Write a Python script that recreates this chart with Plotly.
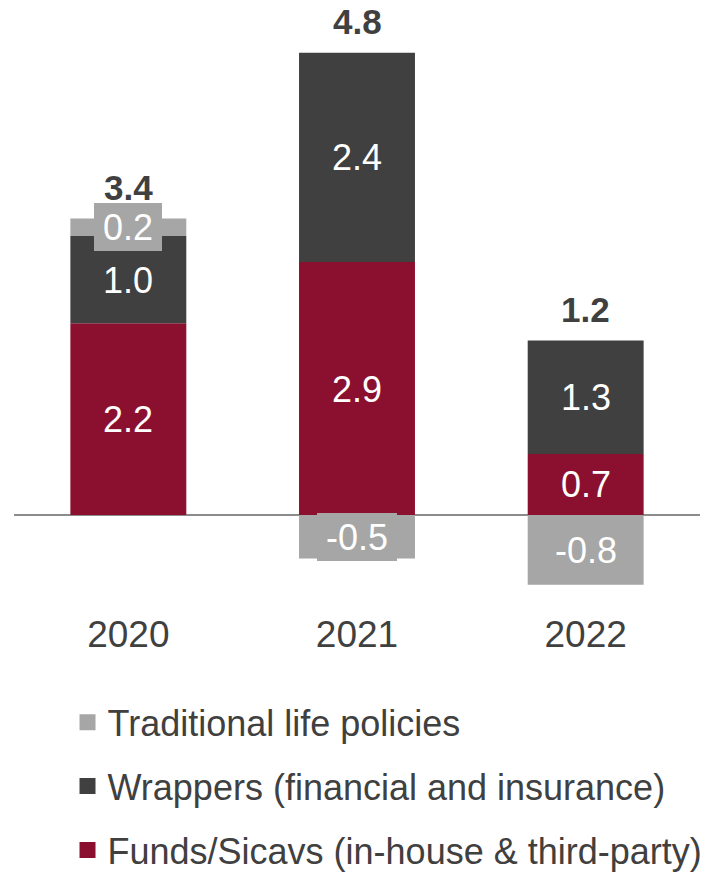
import plotly.graph_objects as go

years = ["2020", "2021", "2022"]
funds = [2.2, 2.9, 0.7]
wrappers = [1.0, 2.4, 1.3]
traditional = [0.2, -0.5, -0.8]
totals = [3.4, 4.8, 1.2]

names = {
    "traditional": "Traditional life policies",
    "wrappers": "Wrappers (financial and insurance)",
    "funds": "Funds/Sicavs (in-house & third-party)",
}
colors = {"funds": "#8B1030", "wrappers": "#404040", "traditional": "#A6A6A6"}
FONT = "Liberation Sans, Arial, sans-serif"
TEXT = "#404040"
LABEL_SIZE = 36

fig = go.Figure()

# stacked segments, bottom to top
stack = [("funds", funds), ("wrappers", wrappers), ("traditional", traditional)]
xs = list(range(len(years)))
for key, vals in stack:
    fig.add_trace(go.Bar(
        x=xs, y=vals, name=names[key], marker_color=colors[key],
        marker_line_width=0, width=0.507, showlegend=False, hoverinfo="skip",
    ))


def label_width(s):
    # approximate Arial advance widths for numeric labels
    w = sum(0.556 if c.isdigit() else 0.278 if c == "." else 0.333 for c in s)
    return w * LABEL_SIZE + 10


# value labels centred in each segment (relative stacking)
pos_base = [0.0] * len(years)
neg_base = [0.0] * len(years)
annotations = []
for key, vals in stack:
    for i, v in enumerate(vals):
        if v >= 0:
            mid = pos_base[i] + v / 2
            pos_base[i] += v
        else:
            mid = neg_base[i] + v / 2
            neg_base[i] += v
        txt = f"{v:.1f}"
        annotations.append(dict(
            x=i, y=mid, xref="x", yref="y", text=txt, showarrow=False,
            font=dict(family=FONT, size=LABEL_SIZE, color="white"),
            bgcolor=colors[key], borderpad=4, borderwidth=0,
            width=label_width(txt), height=40,
        ))

# totals above the positive stack
for i, t in enumerate(totals):
    annotations.append(dict(
        x=i, y=pos_base[i], xref="x", yref="y", text=f"<b>{t:.1f}</b>",
        showarrow=False, yanchor="bottom", yshift=10,
        font=dict(family=FONT, size=35, color=TEXT),
    ))

# legend entries as square markers
for key in ["traditional", "wrappers", "funds"]:
    fig.add_trace(go.Scatter(
        x=[None], y=[None], mode="markers", name=names[key],
        marker=dict(symbol="square", size=17, color=colors[key]),
        legendgroup=key, showlegend=True,
    ))

fig.update_layout(
    width=718, height=874,
    margin=dict(l=13.5, r=17.5, t=0, b=274, autoexpand=False),
    barmode="relative",
    plot_bgcolor="white", paper_bgcolor="white",
    annotations=annotations,
    font=dict(family=FONT, color=TEXT),
    showlegend=True,
    legend=dict(
        x=0.078, y=-0.154, xanchor="left", yanchor="top",
        font=dict(family=FONT, size=36, color=TEXT),
        tracegroupgap=14, traceorder="grouped", bgcolor="rgba(0,0,0,0)",
        itemsizing="trace",
    ),
    xaxis=dict(
        range=[-0.5, 2.5], tickvals=xs, ticktext=years, showgrid=False,
        zeroline=False, showline=False, ticks="",
        tickfont=dict(family=FONT, size=37, color=TEXT), ticklabelstandoff=9,
        fixedrange=True,
    ),
    yaxis=dict(
        range=[-0.975, 5.906], showgrid=False, showticklabels=False,
        zeroline=True, zerolinecolor="#8C8C8C", zerolinewidth=2,
        showline=False, ticks="", fixedrange=True,
    ),
)

fig.write_html("out.html")
